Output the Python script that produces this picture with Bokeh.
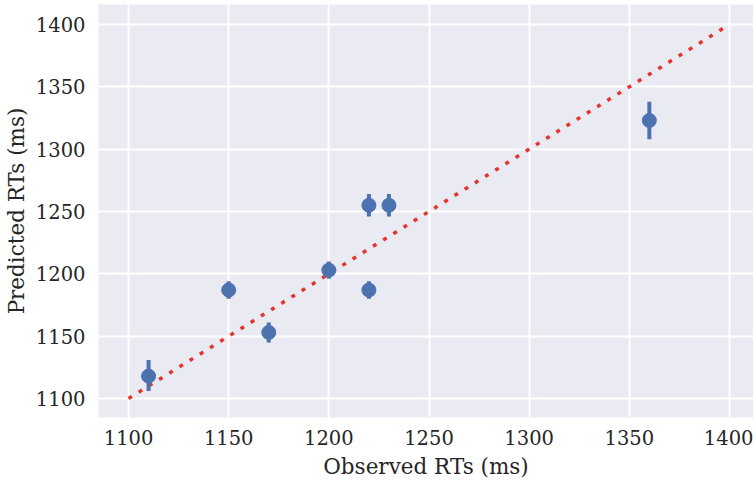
from bokeh.plotting import figure
from bokeh.models import Range1d, FixedTicker, ColumnDataSource
from bokeh.embed import file_html
from bokeh.resources import INLINE

observed = [1110, 1150, 1170, 1200, 1220, 1220, 1230, 1360]
predicted = [1118, 1187, 1153, 1203, 1255, 1187, 1255, 1323]
err_low = [1106, 1180, 1145, 1196, 1246, 1180, 1246, 1308]
err_high = [1131, 1194, 1161, 1210, 1264, 1194, 1264, 1338]
ident = [1100, 1400]
ticks = [1100, 1150, 1200, 1250, 1300, 1350, 1400]

src = ColumnDataSource(dict(x=observed, y=predicted, lo=err_low, hi=err_high))

p = figure(frame_width=655, frame_height=413, output_backend="svg", toolbar_location=None,
           x_range=Range1d(1085, 1412), y_range=Range1d(1084.8, 1416),
           min_border_left=92, min_border_right=0, min_border_top=4, min_border_bottom=58)
p.background_fill_color = "#eaeaf2"
p.border_fill_color = "white"
p.outline_line_color = None

for ax in (p.xaxis, p.yaxis):
    ax.ticker = FixedTicker(ticks=ticks)
    ax.axis_line_color = None
    ax.major_tick_line_color = None
    ax.minor_tick_line_color = None
    ax.major_label_text_font = "DejaVu Serif"
    ax.major_label_text_font_size = "19.5px"
    ax.major_label_text_color = "#262626"
    ax.axis_label_text_font = "DejaVu Serif"
    ax.axis_label_text_font_size = "21.5px"
    ax.axis_label_text_font_style = "normal"
    ax.axis_label_text_color = "#262626"
    ax.major_label_standoff = 7
    ax.axis_label_standoff = 4

p.xaxis.major_label_standoff = 6
p.xaxis.axis_label_standoff = 6

p.xaxis.axis_label = "Observed RTs (ms)"
p.yaxis.axis_label = "Predicted RTs (ms)"

p.grid.grid_line_color = "white"
p.grid.grid_line_width = 2

p.line(ident, ident, line_color="#e3342f", line_width=3.5, line_dash="4 8")
p.segment(x0="x", y0="lo", x1="x", y1="hi", source=src, line_color="#4c72b0", line_width=4)
p.scatter(x="x", y="y", source=src, size=14, fill_color="#4c72b0", line_color="#4c72b0")

open("out.html", "w").write(file_html(p, INLINE))
